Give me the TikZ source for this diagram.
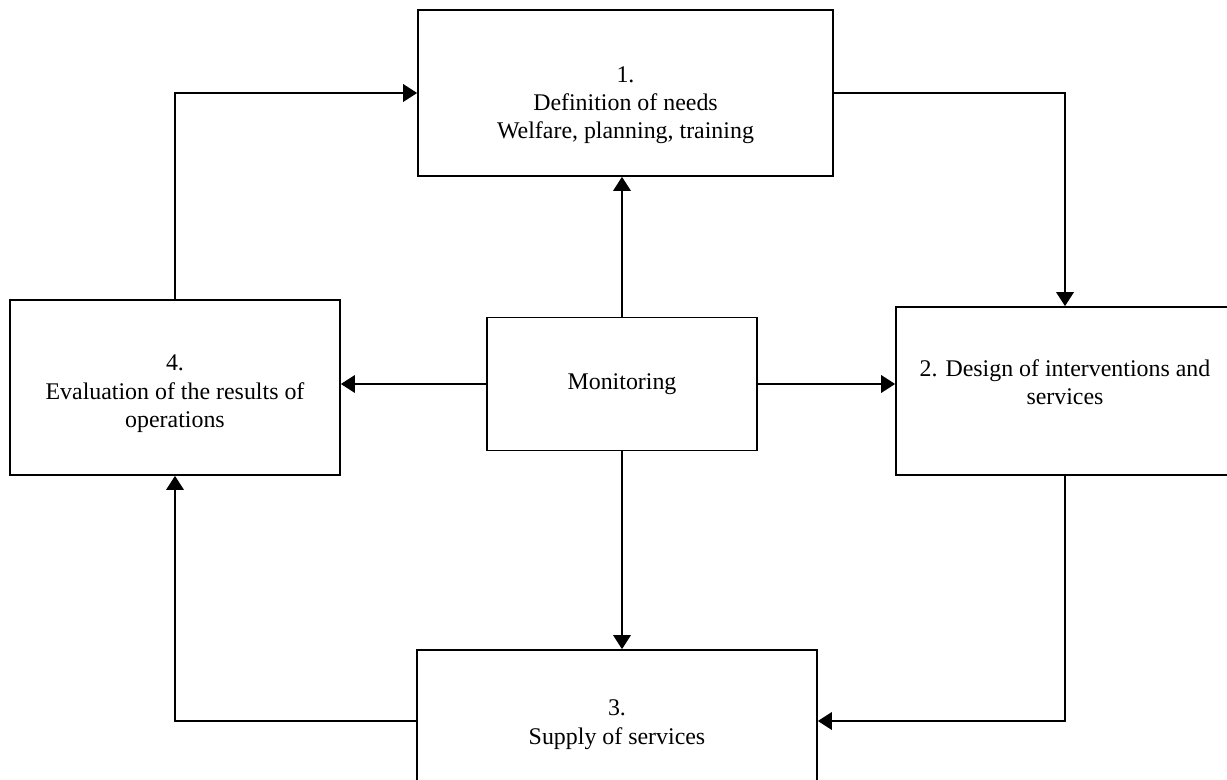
\documentclass[tikz,border=0pt]{standalone}
\usepackage{fontspec}
\setmainfont{Liberation Serif}
\usetikzlibrary{shapes,arrows.meta,positioning}
\tikzset{stage box/.style={rectangle,draw,line width=1pt,align=center,inner sep=0pt,font=\fontsize{13.6}{16}\selectfont},}
\tikzset{flow arrow/.style={draw,line width=1pt,-{Triangle[length=8pt,width=10pt]}},}

\begin{document}
\begin{tikzpicture}[x=0.02cm,y=-0.02cm]
    \useasboundingbox (0,0) rectangle (1227,780);
    \node[stage box,minimum width=8.3cm,minimum height=3.32cm] (1) at (625.5,93) {\rule{0pt}{22.8pt}1.\\Definition of needs\\Welfare, planning, training};
    \node[stage box,minimum width=6.76cm,minimum height=3.36cm] (2) at (1065,391) {2. Design of interventions and\\services\rule[-10.4pt]{0pt}{0pt}};
    \node[stage box,minimum width=8cm,minimum height=2.84cm] (3) at (617,721) {\rule{0pt}{13.2pt}3.\\Supply of services};
    \node[stage box,minimum width=6.6cm,minimum height=3.5cm] (4) at (175,387.5) {\rule{0pt}{16pt}4.\\Evaluation of the results of\\operations};
    \node[stage box,minimum width=5.4cm,minimum height=2.66cm] (m) at (622,384) {Monitoring};

    % cycle round the four stages
    \draw[flow arrow] (4.north) |- (1.west);
    \draw[flow arrow] (1.east) -| (2.north);
    \draw[flow arrow] (2.south) |- (3.east);
    \draw[flow arrow] (3.west) -| (4.south);

    % monitoring feeds every stage
    \path (m.north) edge[flow arrow] (m.north |- 1.south);
    \path (m.east) edge[flow arrow] (m.east -| 2.west);
    \path (m.south) edge[flow arrow] (m.south |- 3.north);
    \path (m.west) edge[flow arrow] (m.west -| 4.east);
\end{tikzpicture}
\end{document}
